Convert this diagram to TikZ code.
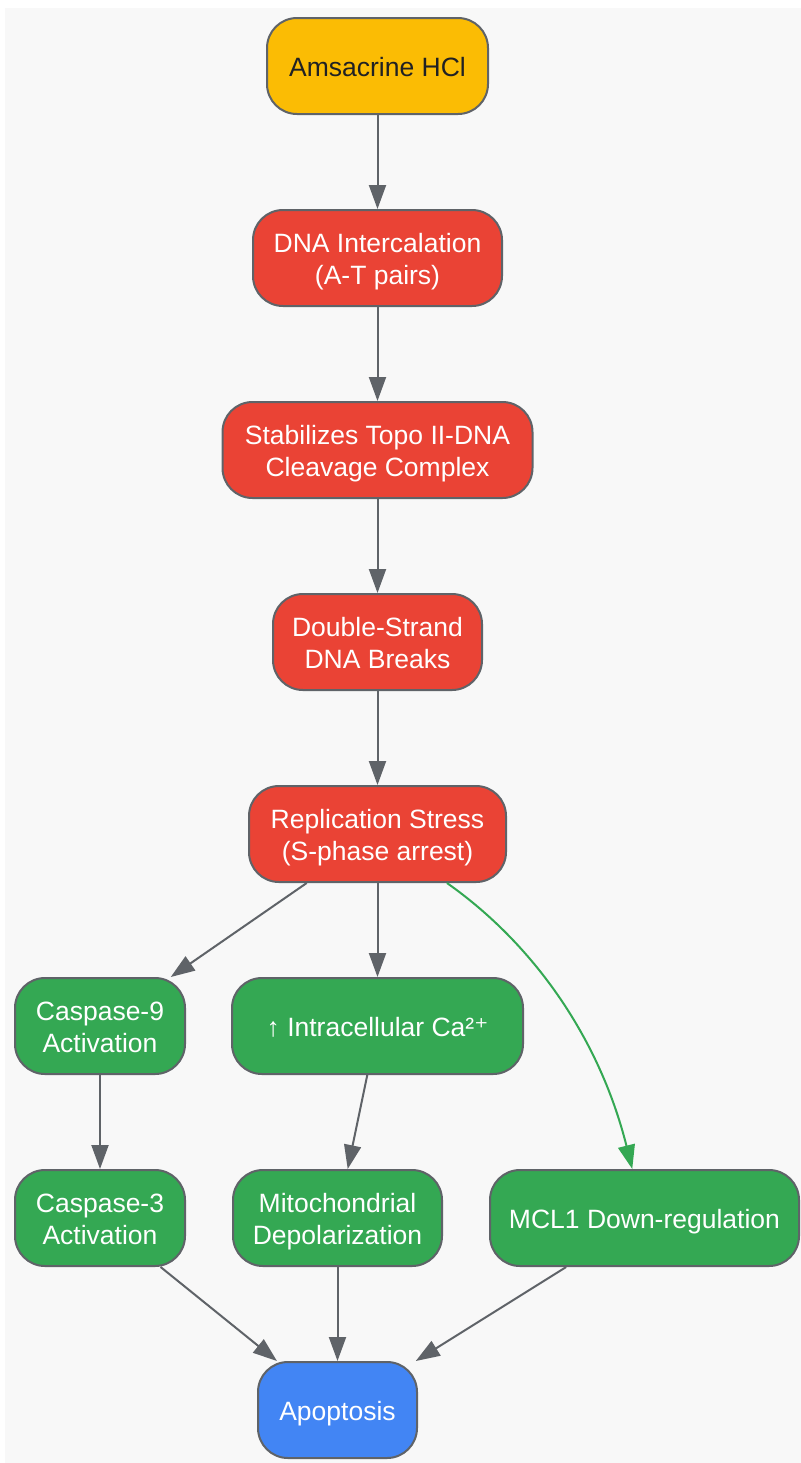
\documentclass[tikz,border=0pt]{standalone}
\usepackage{fontspec}
\setmainfont{Liberation Sans}
\newfontfamily\dejavu{DejaVu Sans}
\usetikzlibrary{arrows.meta}
\newcommand\mytop{\rule{0pt}{13.5pt}}
\newcommand\mybot{\rule[-3pt]{0pt}{0pt}}
\definecolor{bgpanel}{HTML}{F8F8F8}
\definecolor{edgegray}{HTML}{5F6368}
\definecolor{gyellow}{HTML}{FBBC04}
\definecolor{gred}{HTML}{EA4335}
\definecolor{ggreen}{HTML}{34A853}
\definecolor{gblue}{HTML}{4285F4}
\definecolor{darktext}{HTML}{202124}
\tikzset{
  box/.style={draw=edgegray, line width=1pt, rounded corners=15pt, minimum height=48pt,
    inner sep=0pt, align=center, font=\fontsize{13.25}{16}\selectfont, text=white},
  yellowbox/.style={box, fill=gyellow, text=darktext},
  redbox/.style={box, fill=gred},
  greenbox/.style={box, fill=ggreen},
  bluebox/.style={box, fill=gblue},
  conn/.style={draw=edgegray, line width=1pt, -{Triangle[length=12pt,width=8.5pt]}},
  gconn/.style={draw=ggreen, line width=1pt, -{Triangle[length=12pt,width=8.5pt]}},
}
\begin{document}
\begin{tikzpicture}[x=0.5pt,y=-0.5pt]
\useasboundingbox (0,0) rectangle (801,1463);
\fill[white] (0,0) rectangle (801,1463);
\fill[bgpanel] (5,8) rectangle (801,1463);

\node[yellowbox, minimum width=110.5pt] (ams) at (377.5,66) {\mytop Amsacrine HCl\mybot};
\node[redbox, minimum width=124.5pt] (dna) at (377.5,258) {\mytop DNA Intercalation\\(A-T pairs)\mybot};
\node[redbox, minimum width=155pt] (topo) at (377.5,450) {\mytop Stabilizes Topo II-DNA\\Cleavage Complex\mybot};
\node[redbox, minimum width=104.5pt] (dsb) at (377.5,642) {\mytop Double-Strand\\DNA Breaks\mybot};
\node[redbox, minimum width=128.5pt] (rep) at (377.5,834) {\mytop Replication Stress\\(S-phase arrest)\mybot};
\node[greenbox, minimum width=85pt] (c9) at (100,1026) {\mytop Caspase-9\\Activation\mybot};
\node[greenbox, minimum width=145.5pt] (ca) at (377.5,1026) {\mytop ↑ Intracellular Ca²{\dejavu ⁺}\mybot};
\node[greenbox, minimum width=85pt] (c3) at (100,1218) {\mytop Caspase-3\\Activation\mybot};
\node[greenbox, minimum width=104.5pt] (mito) at (337.5,1218) {\mytop Mitochondrial\\Depolarization\mybot};
\node[greenbox, minimum width=154.5pt] (mcl) at (644.5,1218) {\mytop MCL1 Down-regulation\mybot};
\node[bluebox, minimum width=79.5pt] (apo) at (337.5,1410) {\mytop Apoptosis\mybot};

\draw[conn] (ams) -- (dna);
\draw[conn] (dna) -- (topo);
\draw[conn] (topo) -- (dsb);
\draw[conn] (dsb) -- (rep);
\draw[conn] (rep) -- (c9);
\draw[conn] (rep) -- (ca);
\draw[gconn] (rep) .. controls (535,945) and (600,1040) .. (mcl);
\draw[conn] (c9) -- (c3);
\draw[conn] (ca) -- (mito);
\draw[conn] (c3) -- (apo);
\draw[conn] (mito) -- (apo);
\draw[conn] (mcl) -- (apo);
\end{tikzpicture}
\end{document}
